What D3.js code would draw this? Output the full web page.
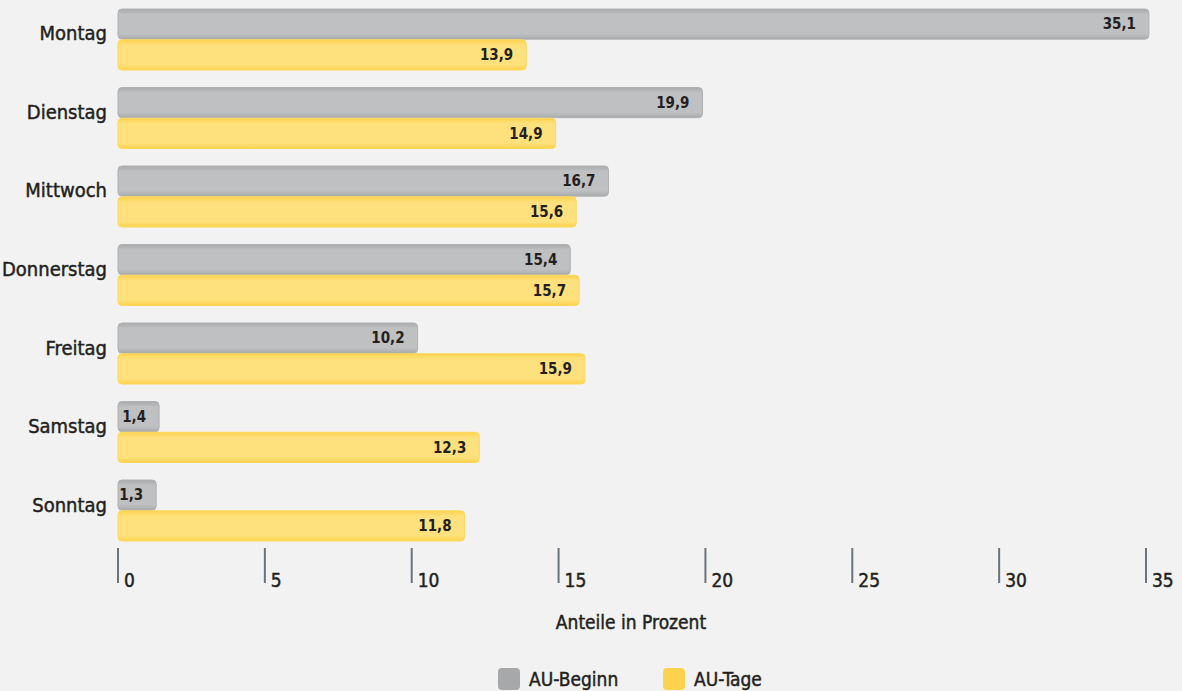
<!DOCTYPE html>
<html>
<head>
<meta charset="utf-8">
<script src="https://cdn.jsdelivr.net/npm/d3@7"></script>
<style>
  body { margin: 0; background: #f2f2f2; }
  svg { display: block; font-family: "DejaVu Sans Condensed", "Roboto", sans-serif; }
  .med { stroke: #231f20; stroke-width: 0.45px; paint-order: stroke; }
</style>
</head>
<body>
<svg id="chart" width="1182" height="691"></svg>
<script>
// data
var days = ['Montag', 'Dienstag', 'Mittwoch', 'Donnerstag', 'Freitag', 'Samstag', 'Sonntag'];
var auBeginn = [35.1, 19.9, 16.7, 15.4, 10.2, 1.4, 1.3];
var auTage = [13.9, 14.9, 15.6, 15.7, 15.9, 12.3, 11.8];
var seriesNames = ['AU-Beginn', 'AU-Tage'];
var tickValues = [0, 5, 10, 15, 20, 25, 30, 35];

var svg = d3.select('#chart');
var fmt = function (v) { return d3.format('.1f')(v).replace('.', ','); };

var x = d3.scaleLinear().domain([0, 35]).range([118, 1146]);
var y = d3.scaleBand().domain(days).range([9, 541]).paddingInner(0.223).paddingOuter(0);
var ySub = d3.scaleBand().domain(seriesNames).range([0, y.bandwidth()]).paddingInner(0.02);

// gradients to get the soft edge look
var defs = svg.append('defs');
function grad(id, edge, mid) {
  var g = defs.append('linearGradient').attr('id', id).attr('x1', 0).attr('x2', 0).attr('y1', 0).attr('y2', 1);
  g.append('stop').attr('offset', '0%').attr('stop-color', edge);
  g.append('stop').attr('offset', '18%').attr('stop-color', mid);
  g.append('stop').attr('offset', '82%').attr('stop-color', mid);
  g.append('stop').attr('offset', '100%').attr('stop-color', edge);
}
grad('gGray', '#a9aaac', '#bfc0c2');
grad('gYellow', '#fdd24c', '#fee17d');
var fills = { 'AU-Beginn': 'url(#gGray)', 'AU-Tage': 'url(#gYellow)' };
var strokes = { 'AU-Beginn': '#b0b1b3', 'AU-Tage': '#fdd75a' };

var rows = days.map(function (d, i) {
  return { day: d, values: [{ key: 'AU-Beginn', v: auBeginn[i] }, { key: 'AU-Tage', v: auTage[i] }] };
});

// category labels
svg.append('g').selectAll('text').data(days).enter().append('text')
  .attr('class', 'med')
  .attr('x', 107)
  .attr('y', function (d) { return y(d) + y.bandwidth() / 2 - 6; })
  .attr('dy', '0.35em')
  .attr('text-anchor', 'end')
  .style('font-size', '20px')
  .style('fill', '#231f20')
  .text(function (d) { return d; });

var groups = svg.append('g').selectAll('g').data(rows).enter().append('g')
  .attr('transform', function (d) { return 'translate(0,' + y(d.day) + ')'; });

groups.selectAll('rect').data(function (d) { return d.values; }).enter().append('rect')
  .attr('x', x(0))
  .attr('y', function (d) { return ySub(d.key); })
  .attr('width', function (d) { return x(d.v) - x(0); })
  .attr('height', ySub.bandwidth())
  .attr('rx', 4)
  .attr('fill', function (d) { return fills[d.key]; })
  .attr('stroke', function (d) { return strokes[d.key]; })
  .attr('stroke-width', 1);

groups.selectAll('text.val').data(function (d) { return d.values; }).enter().append('text')
  .attr('class', 'val')
  .attr('x', function (d) { return x(d.v) - 13; })
  .attr('y', function (d) { return ySub(d.key) + ySub.bandwidth() / 2; })
  .attr('dy', '0.35em')
  .attr('text-anchor', 'end')
  .style('font-size', '15px')
  .style('font-weight', 'bold')
  .style('fill', '#231f20')
  .text(function (d) { return fmt(d.v); });

// x axis: vertical tick marks with labels to the right
var axis = svg.append('g');
axis.selectAll('line').data(tickValues).enter().append('line')
  .attr('x1', function (d) { return x(d); })
  .attr('x2', function (d) { return x(d); })
  .attr('y1', 548)
  .attr('y2', 583)
  .attr('stroke', '#6b737c')
  .attr('stroke-width', 2);
axis.selectAll('text').data(tickValues).enter().append('text')
  .attr('class', 'med')
  .attr('x', function (d) { return x(d) + 6; })
  .attr('y', 587)
  .style('font-size', '19px')
  .style('fill', '#231f20')
  .text(function (d) { return d; });

svg.append('text')
  .attr('class', 'med')
  .attr('x', 631).attr('y', 629)
  .attr('text-anchor', 'middle')
  .style('font-size', '19px')
  .style('fill', '#231f20')
  .text('Anteile in Prozent');

// legend
var legend = svg.append('g').selectAll('g').data(seriesNames).enter().append('g')
  .attr('transform', function (d, i) { return 'translate(' + (498 + i * 165) + ',668)'; });
legend.append('rect')
  .attr('width', 22).attr('height', 22).attr('rx', 4)
  .attr('fill', function (d, i) { return i === 0 ? '#a7a8aa' : '#fdd34e'; });
legend.append('text')
  .attr('class', 'med')
  .attr('x', 31).attr('y', 11).attr('dy', '0.35em')
  .style('font-size', '19px')
  .style('fill', '#231f20')
  .text(function (d) { return d; });
</script>
</body>
</html>
